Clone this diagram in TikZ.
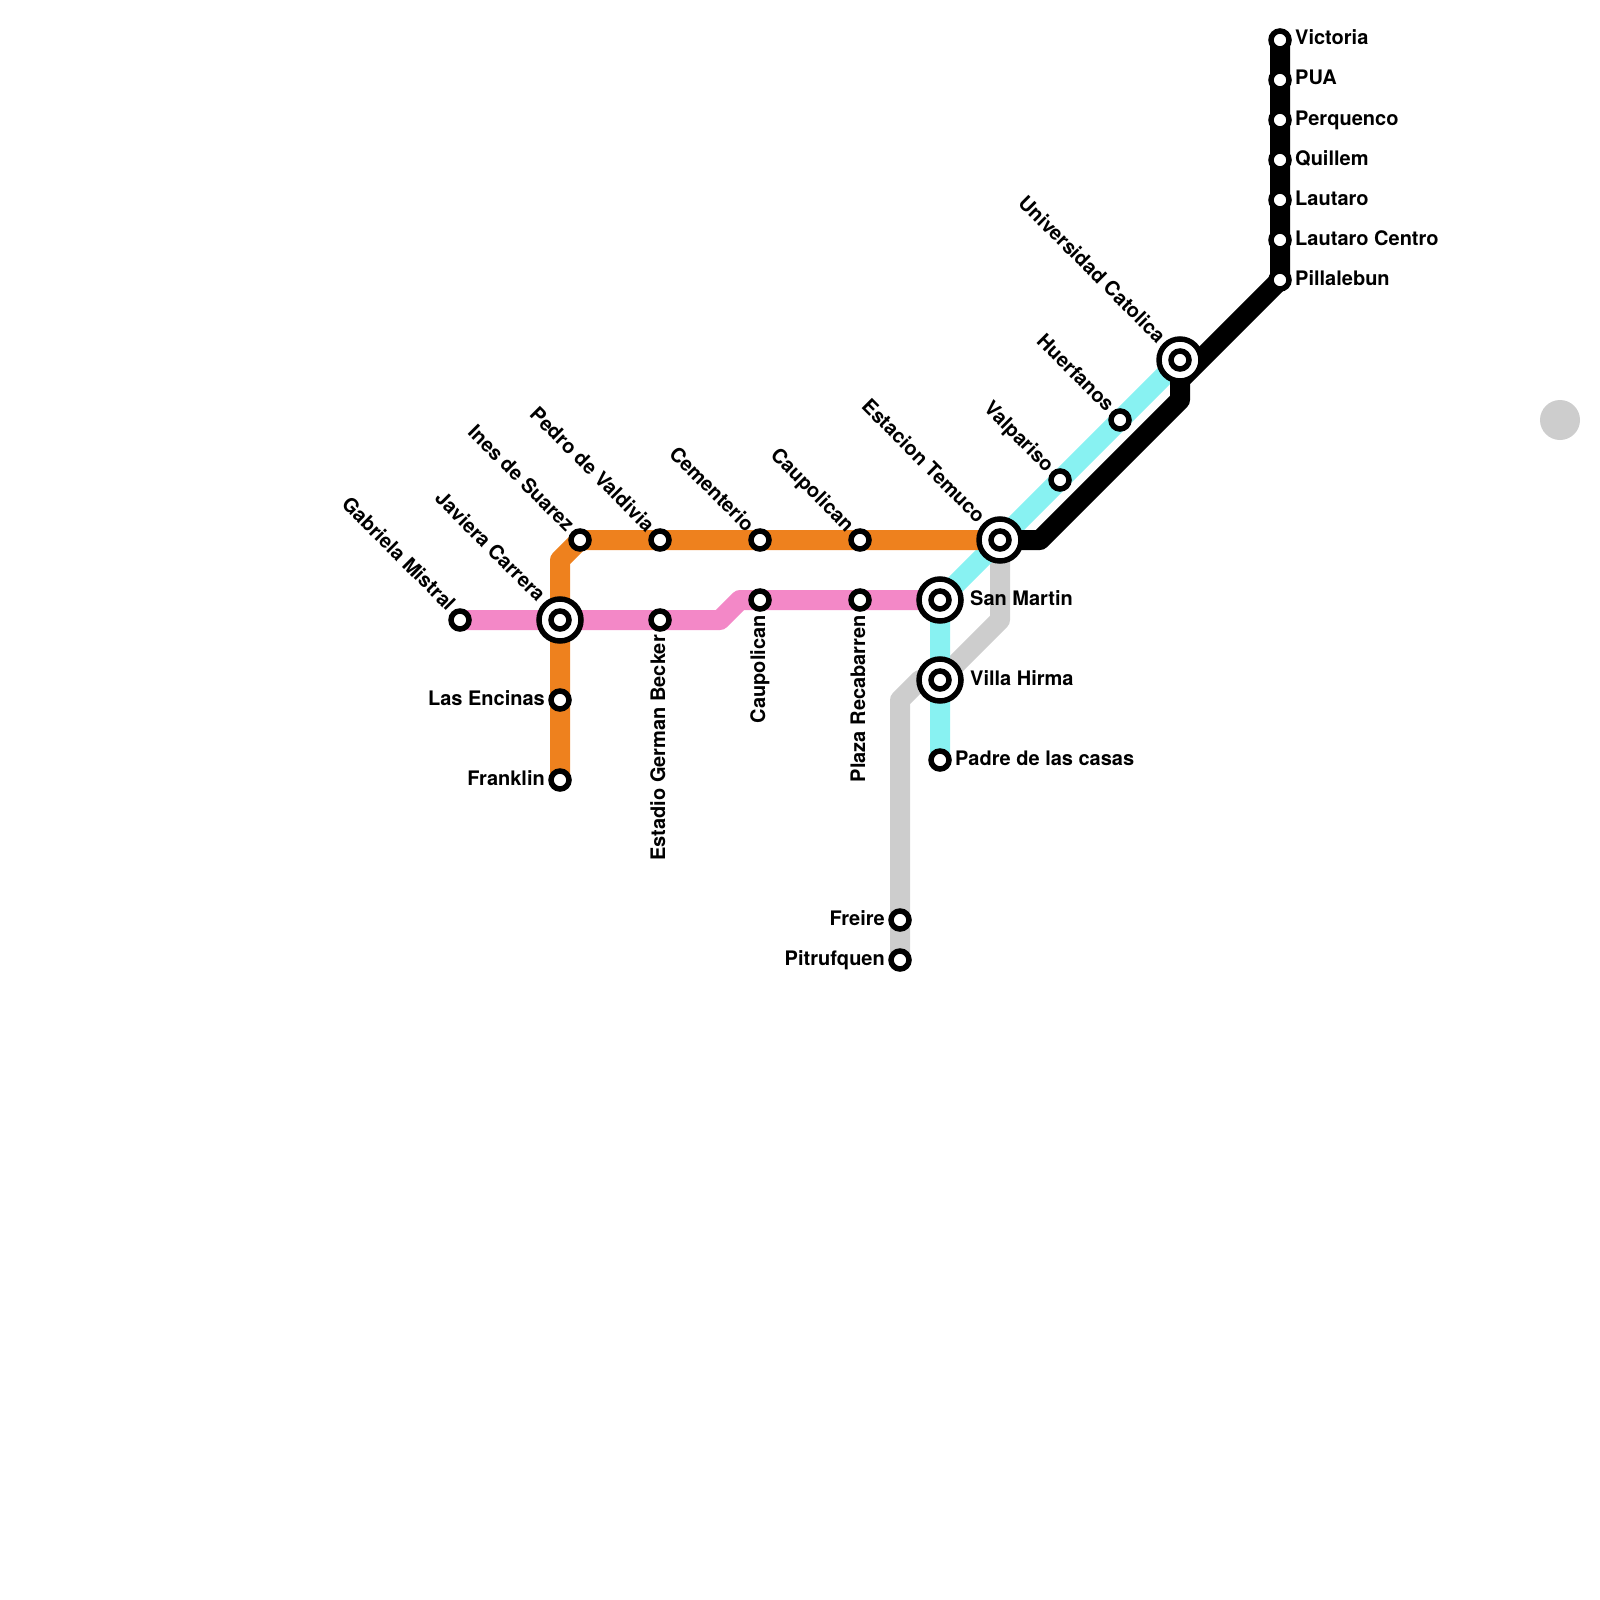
\documentclass[tikz,border=0pt]{standalone}
\usepackage{fontspec}
\setmainfont{TeX Gyre Heros}
\usetikzlibrary{backgrounds}
\definecolor{lorange}{HTML}{EE811E}
\definecolor{lpink}{HTML}{F388C7}
\definecolor{lcyan}{HTML}{88F2F2}
\definecolor{lgray}{HTML}{CDCDCD}
\tikzset{
 x=1pt,y=-1pt,
 stn/.style={circle,draw=black,fill=white,line width=5.5pt,minimum size=18pt,inner sep=0pt},
 ring/.style={circle,draw=black,fill=white,line width=5.5pt,minimum size=42pt,inner sep=0pt},
 metro/.style={line width=20pt,line join=round},
 lab/.style={font=\bfseries\fontsize{20}{20}\selectfont,inner sep=0pt,text=black},
 labR/.style={lab,anchor=base west},
 labL/.style={lab,anchor=base east},
 labD/.style={lab,anchor=base east,rotate=-45},
 labV/.style={lab,anchor=base east,rotate=90},
}
\begin{document}
\begin{tikzpicture}
\useasboundingbox (0,0) rectangle (1600,1600);
% interchange rings
\node[ring] (javieraR) at (560,620) {};
\node[ring] (temucoR) at (1000,540) {};
\node[ring] (sanmartinR) at (940,600) {};
\node[ring] (villaR) at (940,680) {};
\node[ring] (ucR) at (1180,360) {};
% stations
\node[stn] (victoria) at (1280,40) {};
\node[stn] (pua) at (1280,80) {};
\node[stn] (perquenco) at (1280,120) {};
\node[stn] (quillem) at (1280,160) {};
\node[stn] (lautaro) at (1280,200) {};
\node[stn] (lautaroc) at (1280,240) {};
\node[stn] (pillalebun) at (1280,280) {};
\node[stn] (uc) at (1180,360) {};
\node[stn] (huerfanos) at (1120,420) {};
\node[stn] (valpariso) at (1060,480) {};
\node[stn] (temuco) at (1000,540) {};
\node[stn] (sanmartin) at (940,600) {};
\node[stn] (villa) at (940,680) {};
\node[stn] (padre) at (940,760) {};
\node[stn] (ines) at (580,540) {};
\node[stn] (pedro) at (660,540) {};
\node[stn] (cementerio) at (760,540) {};
\node[stn] (caupolicanA) at (860,540) {};
\node[stn] (gabriela) at (460,620) {};
\node[stn] (javiera) at (560,620) {};
\node[stn] (estadio) at (660,620) {};
\node[stn] (caupolicanB) at (760,600) {};
\node[stn] (plaza) at (860,600) {};
\node[stn] (encinas) at (560,700) {};
\node[stn] (franklin) at (560,780) {};
\node[stn] (freire) at (900,920) {};
\node[stn] (pitrufquen) at (900,960) {};
% bends
\coordinate (oB) at (560,560);
\coordinate (pB1) at (720,620);
\coordinate (pB2) at (740,600);
\coordinate (gB1) at (1000,620);
\coordinate (gB2) at (920,680);
\coordinate (gB3) at (900,700);
\coordinate (kB1) at (1180,380);
\coordinate (kB2) at (1180,400);
\coordinate (kB3) at (1040,540);
% lone dot
\node[circle,fill=lgray,minimum size=40pt,inner sep=0pt] (dot) at (1560,420) {};
% lines
\begin{scope}[on background layer]
\draw[metro,lgray] (temuco.center) -- (gB1) -- (villa.center) -- (gB2) -- (gB3) -- (pitrufquen.center);
\draw[metro,lcyan] (uc.center) -- (sanmartin.center) -- (padre.center);
\draw[metro,lpink] (gabriela.center) -- (pB1) -- (pB2) -- (sanmartin.center);
\draw[metro,lorange] (franklin.center) -- (oB) -- (ines.center) -- (temuco.center);
\draw[metro,black] (victoria.center) -- (pillalebun.center) -- (kB1) -- (kB2) -- (kB3) -- (temuco.center);
\end{scope}
% labels right
\node[labR] (tVictoria) at (1295,45) {Victoria};
\node[labR] (tPua) at (1295,85) {PUA};
\node[labR] (tPerquenco) at (1295,125) {Perquenco};
\node[labR] (tQuillem) at (1295,165) {Quillem};
\node[labR] (tLautaro) at (1295,205) {Lautaro};
\node[labR] (tLautaroC) at (1295,245) {Lautaro Centro};
\node[labR] (tPillalebun) at (1295,285) {Pillalebun};
\node[labR] (tSanMartin) at (970,605) {San Martin};
\node[labR] (tVilla) at (970,685) {Villa Hirma};
\node[labR] (tPadre) at (955,765) {Padre de las casas};
% labels left
\node[labL] (tEncinas) at (545,705) {Las Encinas};
\node[labL] (tFranklin) at (545,785) {Franklin};
\node[labL] (tFreire) at (885,925) {Freire};
\node[labL] (tPitrufquen) at (885,965) {Pitrufquen};
% labels diagonal
\node[labD] (tGabriela) at (447,612) {Gabriela Mistral};
\node[labD] (tJaviera) at (537,603) {Javiera Carrera};
\node[labD] (tInes) at (566,533) {Ines de Suarez};
\node[labD] (tPedro) at (646,533) {Pedro de Valdivia};
\node[labD] (tCementerio) at (746,533) {Cementerio};
\node[labD] (tCaupolicanA) at (846,533) {Caupolican};
\node[labD] (tTemuco) at (977,524) {Estacion Temuco};
\node[labD] (tValpariso) at (1046,473) {Valpariso};
\node[labD] (tHuerfanos) at (1106,413) {Huerfanos};
\node[labD] (tUC) at (1157,344) {Universidad Catolica};
% labels vertical
\node[labV] (tEstadio) at (665,635) {Estadio German Becker};
\node[labV] (tCaupolicanB) at (765,615) {Caupolican};
\node[labV] (tPlaza) at (865,615) {Plaza Recabarren};
\end{tikzpicture}
\end{document}
